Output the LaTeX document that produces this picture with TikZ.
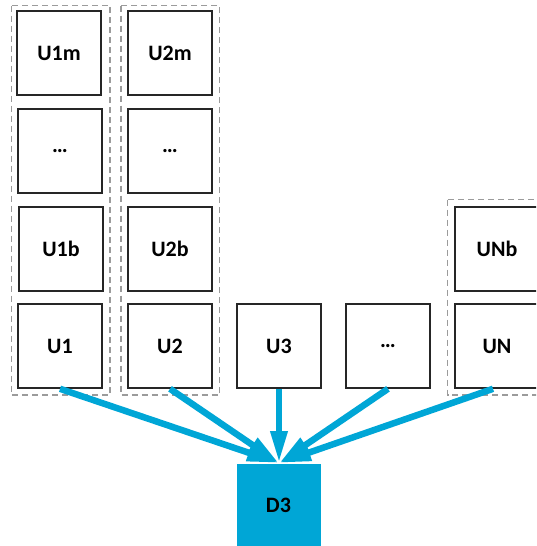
\documentclass[tikz,border=0pt]{standalone}
\usepackage{fontspec}
\setmainfont{Carlito}
\usetikzlibrary{arrows.meta}
\definecolor{flowblue}{RGB}{0,166,214}
\definecolor{framegray}{RGB}{155,155,155}
\tikzset{
  unit/.style={draw=black!85, line width=1.6pt, fill=white,
    minimum width=84pt, minimum height=84pt, inner sep=0pt,
    font=\bfseries\fontsize{22}{26}\selectfont},
  sink/.style={fill=flowblue, draw=flowblue, line width=0.5pt,
    minimum width=83pt, minimum height=82pt, inner sep=0pt,
    font=\bfseries\fontsize{22}{26}\selectfont},
  group/.style={draw=framegray, line width=1.5pt, dash pattern=on 6pt off 4pt},
  flow/.style={draw=flowblue, line width=6.5pt,
    -{Triangle[length=32pt,width=16pt]}}
}
\begin{document}
\begin{tikzpicture}[x=1pt,y=-1pt]
  \useasboundingbox (0,0) rectangle (536,546);
  \clip (0,0) rectangle (536,546);

  % dashed frames around the stacked columns
  \draw[group] (11.5,5.5) rectangle (110,395);
  \draw[group] (121,5.5) rectangle (219.5,395);
  \draw[group] (447.5,199.5) rectangle (560,395);

  % column 1
  \node[unit] (u1m) at (59,53)  {U1m};
  \node[unit] (u1d) at (60,151) {…};
  \node[unit] (u1b) at (61,249) {U1b};
  \node[unit] (u1)  at (60,346) {U1};

  % column 2
  \node[unit] (u2m) at (170,53)  {U2m};
  \node[unit] (u2d) at (170,151) {…};
  \node[unit] (u2b) at (170,249) {U2b};
  \node[unit] (u2)  at (170,346) {U2};

  % remaining sources
  \node[unit] (u3)  at (279,346) {U3};
  \node[unit] (ud)  at (388,346) {…};
  \node[unit] (unb) at (497,249) {UNb};
  \node[unit] (un)  at (497,346) {UN};

  % destination
  \node[sink] (d3) at (278.5,505) {D3};
  \coordinate (tip) at (279,463);

  % flows into the destination
  \draw[flow] (u1.south) -- (tip);
  \draw[flow] (u2.south) -- (tip);
  \draw[flow] (u3.south) -- (tip);
  \draw[flow] (ud.south) -- (tip);
  \draw[flow] ([xshift=-4pt]un.south) -- (tip);
\end{tikzpicture}
\end{document}
